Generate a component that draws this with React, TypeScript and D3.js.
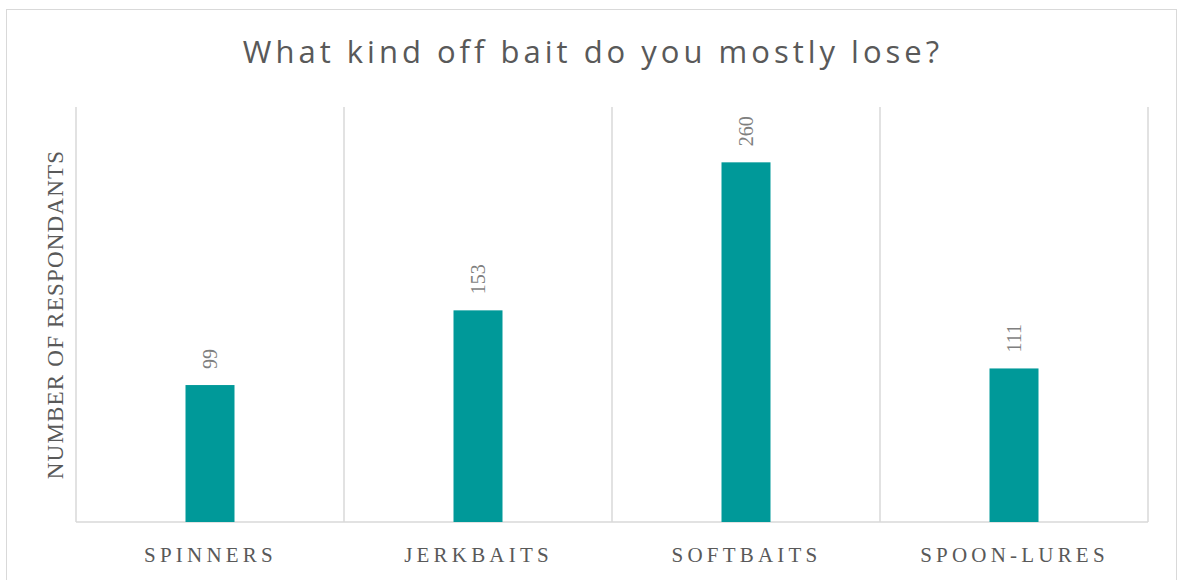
import React from "react";
import * as d3 from "d3";

const categories = ["SPINNERS", "JERKBAITS", "SOFTBAITS", "SPOON-LURES"];
const values = [99, 153, 260, 111];
const title = "What kind off bait do you mostly lose?";
const yTitle = "NUMBER OF RESPONDANTS";

export default function App() {
  const W = 1178, H = 580;
  const left = 76, right = 1148, top = 107, bottom = 522;
  const x = d3.scaleBand<string>().domain(categories).range([left, right]).paddingInner(0).paddingOuter(0);
  const y = d3.scaleLinear().domain([0, 300]).range([bottom, top]);
  const barW = 49;
  const bounds = [left, ...categories.map((c) => (x(c) as number) + x.bandwidth())];
  const teal = "#009999";
  const grid = "#d9d9d9";
  const textCol = "#595959";
  return (
    <svg width={W} height={H} style={{ position: "absolute", left: 0, top: 0, background: "#fff" }}>
      <rect x={6.5} y={9.5} width={1170} height={600} fill="#fff" stroke={grid} strokeWidth={1} />
      <text x={593} y={63} textAnchor="middle" fontFamily="'Open Sans', sans-serif" fontSize={31} letterSpacing={4} fill={textCol}>
        {title}
      </text>
      {bounds.map((b, i) => (
        <line key={i} x1={b} x2={b} y1={top} y2={bottom} stroke={grid} strokeWidth={1.5} />
      ))}
      <line x1={left} x2={right} y1={bottom} y2={bottom} stroke={grid} strokeWidth={1.5} />
      {categories.map((c, i) => {
        const cx = (x(c) as number) + x.bandwidth() / 2;
        const yt = y(values[i]);
        return (
          <g key={c}>
            <rect x={cx - barW / 2} y={yt} width={barW} height={bottom - yt} fill={teal} />
            <text
              transform={`translate(${cx + 7},${yt - 16}) rotate(-90)`}
              textAnchor="start"
              fontFamily="'Liberation Serif', serif"
              fontSize={20}
              fill="#7f7f7f"
            >
              {values[i]}
            </text>
            <text x={cx + 0.5} y={562} textAnchor="middle" fontFamily="'Liberation Serif', serif" fontSize={21} letterSpacing={4.2} fill={textCol}>
              {c}
            </text>
          </g>
        );
      })}
      <text
        transform={`translate(63,${(top + bottom) / 2}) rotate(-90)`}
        textAnchor="middle"
        fontFamily="'Liberation Serif', serif"
        fontSize={23}
        letterSpacing={1.2}
        fill={textCol}
      >
        {yTitle}
      </text>
    </svg>
  );
}
